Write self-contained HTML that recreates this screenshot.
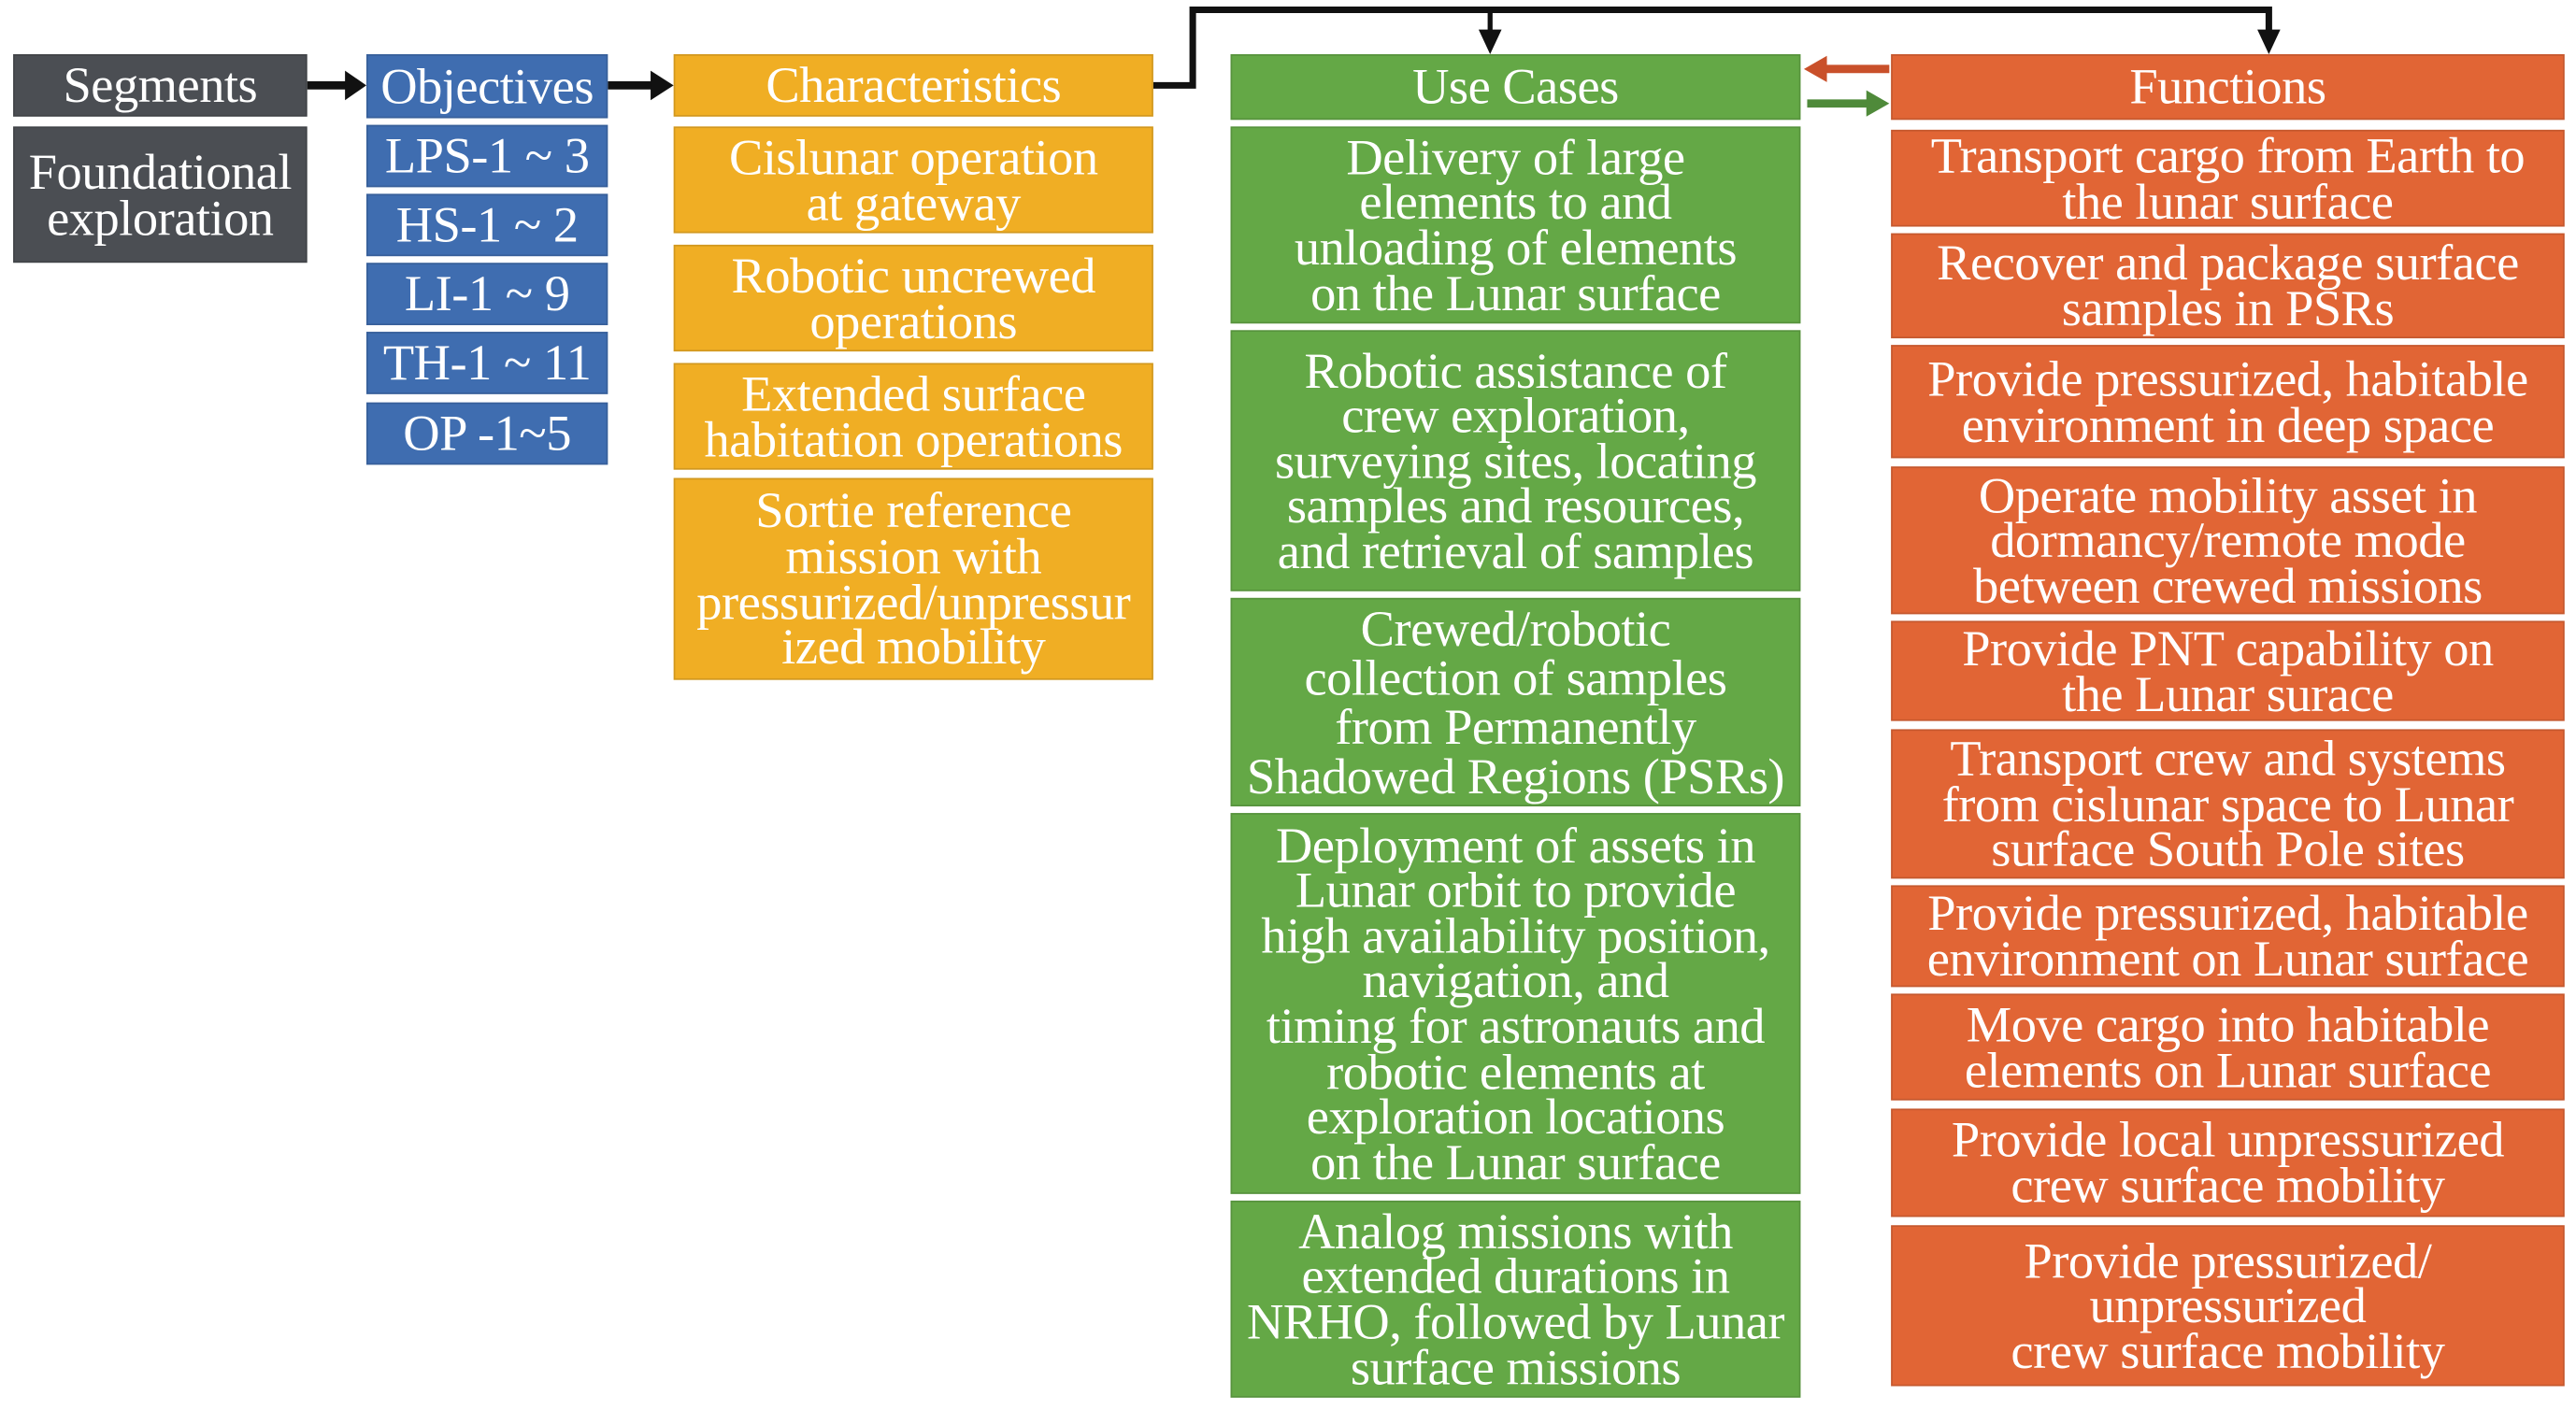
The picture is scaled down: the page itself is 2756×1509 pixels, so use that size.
<!DOCTYPE html>
<html><head><meta charset="utf-8"><style>
html,body{margin:0;padding:0;background:#fff;width:2756px;height:1509px;overflow:hidden}
#c{position:absolute;left:0;top:0;width:1568px;height:858px;transform:scale(1.7577);transform-origin:0 0;font-family:"Liberation Serif",serif;color:#fff}
.b{position:absolute;box-sizing:border-box;border:1px solid rgba(0,0,0,0.12);overflow:visible}
.t{position:absolute;left:-20px;top:0;width:calc(100% + 40px);height:100%;display:flex;align-items:center;justify-content:center;text-align:center;font-size:31px;line-height:27.6px;white-space:nowrap;letter-spacing:-0.3px}
.g{background:#4b4e53}.bl{background:#3f6db0}.o{background:#f0ae24}.gr{background:#64a846}.r{background:#e16535}
</style></head><body><div id="c">
<svg width="1568" height="858" style="position:absolute;left:0;top:0">
<g fill="#111" stroke="#111">
<line x1="187" y1="52" x2="212" y2="52" stroke-width="5"/><polygon points="210,43 223,52 210,61" stroke="none"/>
<line x1="370" y1="52" x2="398" y2="52" stroke-width="5"/><polygon points="396,43 410,52 396,61" stroke="none"/>
<polyline points="702,52 726,52 726,6 1381,6 1381,22" fill="none" stroke-width="4"/>
<line x1="907" y1="6" x2="907" y2="22" stroke-width="3"/>
<polygon points="900,18 914,18 907,33" stroke="none"/><polygon points="1374,18 1388,18 1381,33" stroke="none"/>
</g>
<line x1="1150" y1="42" x2="1110" y2="42" stroke="#c9502a" stroke-width="5"/><polygon points="1112,34 1098,42 1112,50" fill="#c9502a"/>
<line x1="1100" y1="63" x2="1138" y2="63" stroke="#4f8a3a" stroke-width="5"/><polygon points="1136,55 1150,63 1136,71" fill="#4f8a3a"/>
</svg>
<div class="b g" style="left:8px;top:33px;width:179px;height:38px"><div class="t">Segments</div></div>
<div class="b g" style="left:8px;top:77px;width:179px;height:83px"><div class="t">Foundational<br>exploration</div></div>

<div class="b bl" style="left:223px;top:33px;width:147px;height:39px"><div class="t">Objectives</div></div>
<div class="b bl" style="left:223px;top:76px;width:147px;height:38px"><div class="t">LPS-1 ~ 3</div></div>
<div class="b bl" style="left:223px;top:118px;width:147px;height:38px"><div class="t">HS-1 ~ 2</div></div>
<div class="b bl" style="left:223px;top:160px;width:147px;height:38px"><div class="t">LI-1 ~ 9</div></div>
<div class="b bl" style="left:223px;top:202px;width:147px;height:38px"><div class="t">TH-1 ~ 11</div></div>
<div class="b bl" style="left:223px;top:245px;width:147px;height:38px"><div class="t">OP -1~5</div></div>

<div class="b o" style="left:410px;top:33px;width:292px;height:38px"><div class="t">Characteristics</div></div>
<div class="b o" style="left:410px;top:77px;width:292px;height:65px"><div class="t">Cislunar operation<br>at gateway</div></div>
<div class="b o" style="left:410px;top:149px;width:292px;height:65px"><div class="t">Robotic uncrewed<br>operations</div></div>
<div class="b o" style="left:410px;top:221px;width:292px;height:65px"><div class="t">Extended surface<br>habitation operations</div></div>
<div class="b o" style="left:410px;top:291px;width:292px;height:123px"><div class="t">Sortie reference<br>mission with<br>pressurized/unpressur<br>ized mobility</div></div>

<div class="b gr" style="left:749px;top:33px;width:347px;height:40px"><div class="t">Use Cases</div></div>
<div class="b gr" style="left:749px;top:77px;width:347px;height:120px"><div class="t">Delivery of large<br>elements to and<br>unloading of elements<br>on the Lunar surface</div></div>
<div class="b gr" style="left:749px;top:201px;width:347px;height:159px"><div class="t">Robotic assistance of<br>crew exploration,<br>surveying sites, locating<br>samples and resources,<br>and retrieval of samples</div></div>
<div class="b gr" style="left:749px;top:364px;width:347px;height:127px"><div class="t" style="line-height:30px">Crewed/robotic<br>collection of samples<br>from Permanently<br>Shadowed Regions (PSRs)</div></div>
<div class="b gr" style="left:749px;top:495px;width:347px;height:232px"><div class="t">Deployment of assets in<br>Lunar orbit to provide<br>high availability position,<br>navigation, and<br>timing for astronauts and<br>robotic elements at<br>exploration locations<br>on the Lunar surface</div></div>
<div class="b gr" style="left:749px;top:731px;width:347px;height:120px"><div class="t">Analog missions with<br>extended durations in<br>NRHO, followed by Lunar<br>surface missions</div></div>

<div class="b r" style="left:1151px;top:33px;width:410px;height:40px"><div class="t">Functions</div></div>
<div class="b r" style="left:1151px;top:79px;width:410px;height:59px"><div class="t">Transport cargo from Earth to<br>the lunar surface</div></div>
<div class="b r" style="left:1151px;top:142px;width:410px;height:64px"><div class="t">Recover and package surface<br>samples in PSRs</div></div>
<div class="b r" style="left:1151px;top:210px;width:410px;height:69px"><div class="t">Provide pressurized, habitable<br>environment in deep space</div></div>
<div class="b r" style="left:1151px;top:284px;width:410px;height:90px"><div class="t">Operate mobility asset in<br>dormancy/remote mode<br>between crewed missions</div></div>
<div class="b r" style="left:1151px;top:378px;width:410px;height:61px"><div class="t">Provide PNT capability on<br>the Lunar surace</div></div>
<div class="b r" style="left:1151px;top:444px;width:410px;height:91px"><div class="t">Transport crew and systems<br>from cislunar space to Lunar<br>surface South Pole sites</div></div>
<div class="b r" style="left:1151px;top:539px;width:410px;height:62px"><div class="t">Provide pressurized, habitable<br>environment on Lunar surface</div></div>
<div class="b r" style="left:1151px;top:605px;width:410px;height:65px"><div class="t">Move cargo into habitable<br>elements on Lunar surface</div></div>
<div class="b r" style="left:1151px;top:675px;width:410px;height:66px"><div class="t">Provide local unpressurized<br>crew surface mobility</div></div>
<div class="b r" style="left:1151px;top:746px;width:410px;height:98px"><div class="t">Provide pressurized/<br>unpressurized<br>crew surface mobility</div></div>
</div></body></html>
